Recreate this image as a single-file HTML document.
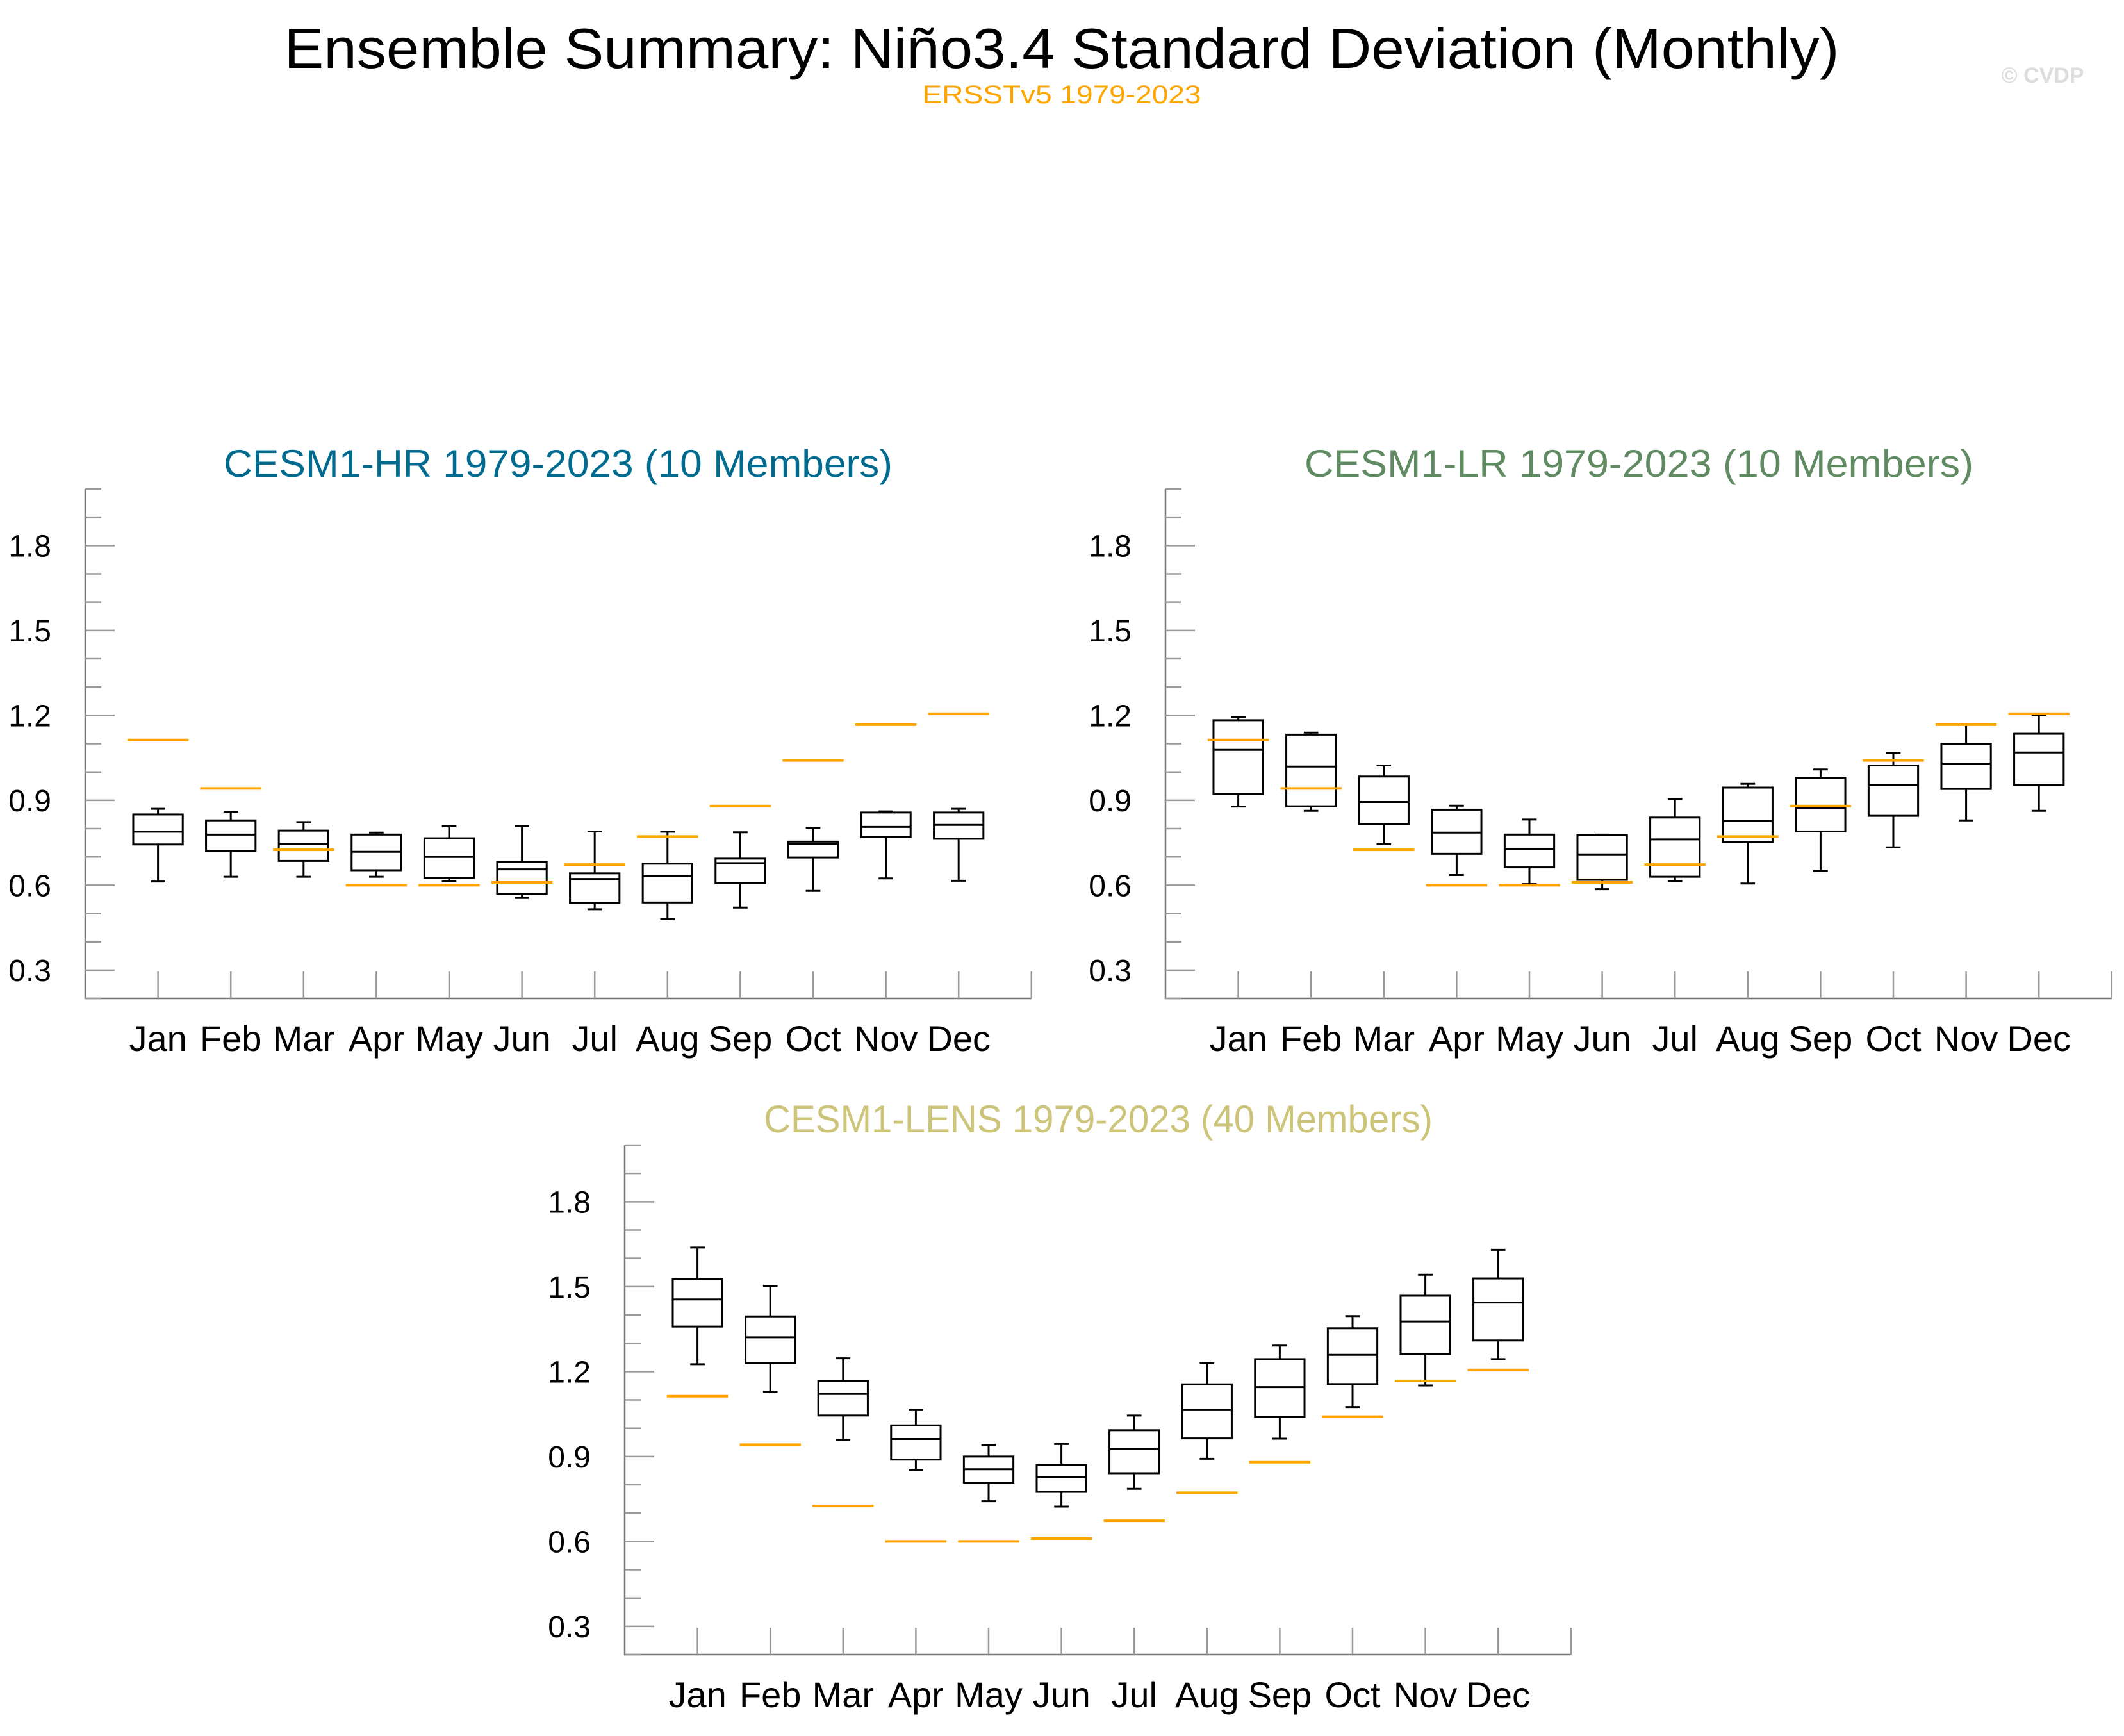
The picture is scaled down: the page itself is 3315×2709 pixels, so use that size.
<!DOCTYPE html>
<html><head><meta charset="utf-8"><style>
html,body{margin:0;padding:0;background:#fff;}
svg{display:block;font-family:"Liberation Sans",sans-serif;}
</style></head><body>
<svg id="chart" width="3315" height="2709" viewBox="0 0 3315 2709" xmlns="http://www.w3.org/2000/svg">
<rect width="3315" height="2709" fill="#fff"/>
<text x="1657" y="106" font-size="88" text-anchor="middle" textLength="2427" lengthAdjust="spacingAndGlyphs" fill="#000">Ensemble Summary: Niño3.4 Standard Deviation (Monthly)</text>
<text x="1657" y="161" font-size="40" text-anchor="middle" textLength="435" lengthAdjust="spacingAndGlyphs" fill="#FFA500">ERSSTv5 1979-2023</text>
<text x="3188" y="129" font-size="34" font-weight="bold" text-anchor="middle" fill="#dcdcdc">© CVDP</text>
<g id="panels"></g>
</svg>
<script>
const months = ["Jan","Feb","Mar","Apr","May","Jun","Jul","Aug","Sep","Oct","Nov","Dec"];
const obsValues = [1.113,0.942,0.725,0.600,0.600,0.610,0.673,0.772,0.880,1.041,1.167,1.206];
const yTicks = [0.3,0.6,0.9,1.2,1.5,1.8];
const hrHigh = [0.870,0.860,0.823,0.786,0.808,0.808,0.790,0.789,0.787,0.803,0.861,0.870];
const hrQ3   = [0.850,0.829,0.793,0.779,0.766,0.682,0.642,0.676,0.694,0.754,0.857,0.857];
const hrMed  = [0.789,0.779,0.747,0.718,0.700,0.656,0.622,0.632,0.678,0.747,0.806,0.813];
const hrQ1   = [0.744,0.721,0.686,0.653,0.626,0.570,0.538,0.539,0.607,0.698,0.770,0.764];
const hrLow  = [0.613,0.630,0.630,0.630,0.614,0.555,0.515,0.480,0.521,0.580,0.624,0.616];
const lrHigh = [1.195,1.139,1.023,0.881,0.832,0.779,0.905,0.958,1.009,1.067,1.170,1.202];
const lrQ3   = [1.183,1.132,0.984,0.867,0.779,0.777,0.839,0.945,0.980,1.023,1.100,1.135];
const lrMed  = [1.078,1.019,0.894,0.786,0.728,0.709,0.762,0.826,0.872,0.953,1.030,1.069];
const lrQ1   = [0.922,0.879,0.816,0.711,0.663,0.619,0.630,0.753,0.790,0.845,0.940,0.954];
const lrLow  = [0.878,0.863,0.745,0.636,0.604,0.586,0.615,0.606,0.651,0.734,0.829,0.863];
const lensHigh = [1.638,1.503,1.247,1.064,0.941,0.944,1.045,1.229,1.292,1.396,1.542,1.630];
const lensQ3   = [1.526,1.395,1.167,1.010,0.900,0.871,0.993,1.155,1.244,1.353,1.468,1.529];
const lensMed  = [1.455,1.321,1.121,0.962,0.855,0.826,0.926,1.064,1.145,1.259,1.377,1.444];
const lensQ1   = [1.359,1.230,1.045,0.889,0.808,0.775,0.841,0.964,1.041,1.156,1.263,1.310];
const lensLow  = [1.226,1.129,0.959,0.853,0.742,0.723,0.786,0.892,0.963,1.075,1.151,1.244];

const NS="http://www.w3.org/2000/svg";
const root=document.getElementById('panels');
function mk(tag,attrs,parent){const e=document.createElementNS(NS,tag);for(const k in attrs)e.setAttribute(k,attrs[k]);(parent||root).appendChild(e);return e;}

const panels=[
 {key:"hr",title:"CESM1-HR 1979-2023 (10 Members)",color:"#006b8f",left:133,top:763,tx:871,ty:744,hi:hrHigh,q3:hrQ3,med:hrMed,q1:hrQ1,lo:hrLow},
 {key:"lr",title:"CESM1-LR 1979-2023 (10 Members)",color:"#5f8a62",left:1819,top:763,tx:2558,ty:744,hi:lrHigh,q3:lrQ3,med:lrMed,q1:lrQ1,lo:lrLow},
 {key:"lens",title:"CESM1-LENS 1979-2023 (40 Members)",color:"#cbc479",left:975,top:1787,tx:1714,ty:1767,hi:lensHigh,q3:lensQ3,med:lensMed,q1:lensQ1,lo:lensLow}
];
const UNIT=113.6, PXV=441.7, YMIN=0.2, YMAX=2.0;
panels.forEach(p=>{
  const g=mk('g',{});
  
  
  const bottom=p.top+(YMAX-YMIN)*PXV;
  const X=v=>p.left+v*UNIT;
  const Y=v=>bottom-(v-YMIN)*PXV;
  const t=mk('text',{x:p.tx,y:p.ty,'font-size':60,'text-anchor':'middle',fill:p.color,textLength:1044,lengthAdjust:'spacingAndGlyphs'},g);
  t.textContent=p.title;
  
  
  const ax=mk('path',{d:`M${X(0)},${p.top}V${bottom}H${X(13)}`,stroke:'#777','stroke-width':2.5,fill:'none'},g);
  
  
  for(let i=2;i<=20;i++){
    const v=i/10, major=(i%3===0);
    mk('line',{x1:X(0),x2:X(0)+(major?46:25),y1:Y(v),y2:Y(v),stroke:'#999','stroke-width':2.5},g);
  }
  yTicks.forEach(v=>{
    const l=mk('text',{x:X(0)-53,y:Y(v)+17,'font-size':48,'text-anchor':'end',fill:'#000'},g);
    l.textContent=v.toFixed(1);
    
    
  });
  for(let m=1;m<=13;m++) mk('line',{x1:X(m),x2:X(m),y1:bottom,y2:bottom-42,stroke:'#999','stroke-width':2.5},g);
  months.forEach((mn,i)=>{
    const l=mk('text',{x:X(i+1),y:bottom+82,'font-size':56,'text-anchor':'middle',fill:'#000'},g);
    l.textContent=mn;
    
    
  });
  months.forEach((mn,i)=>{
    const cx=X(i+1), bw=0.34*UNIT, cw=0.1*UNIT;
    const b=mk('g',{stroke:'#000','stroke-width':3,fill:'none'},g);
    
    
    mk('line',{x1:cx,x2:cx,y1:Y(p.hi[i]),y2:Y(p.q3[i])},b);
    mk('line',{x1:cx,x2:cx,y1:Y(p.q1[i]),y2:Y(p.lo[i])},b);
    mk('line',{x1:cx-cw,x2:cx+cw,y1:Y(p.hi[i]),y2:Y(p.hi[i])},b);
    mk('line',{x1:cx-cw,x2:cx+cw,y1:Y(p.lo[i]),y2:Y(p.lo[i])},b);
    mk('rect',{x:cx-bw,y:Y(p.q3[i]),width:2*bw,height:Y(p.q1[i])-Y(p.q3[i])},b);
    mk('line',{x1:cx-bw,x2:cx+bw,y1:Y(p.med[i]),y2:Y(p.med[i])},b);
    const o=mk('line',{x1:cx-0.42*UNIT,x2:cx+0.42*UNIT,y1:Y(obsValues[i]),y2:Y(obsValues[i]),stroke:'#FFA500','stroke-width':4},g);
    
    
  });
});
</script>
</body></html>
